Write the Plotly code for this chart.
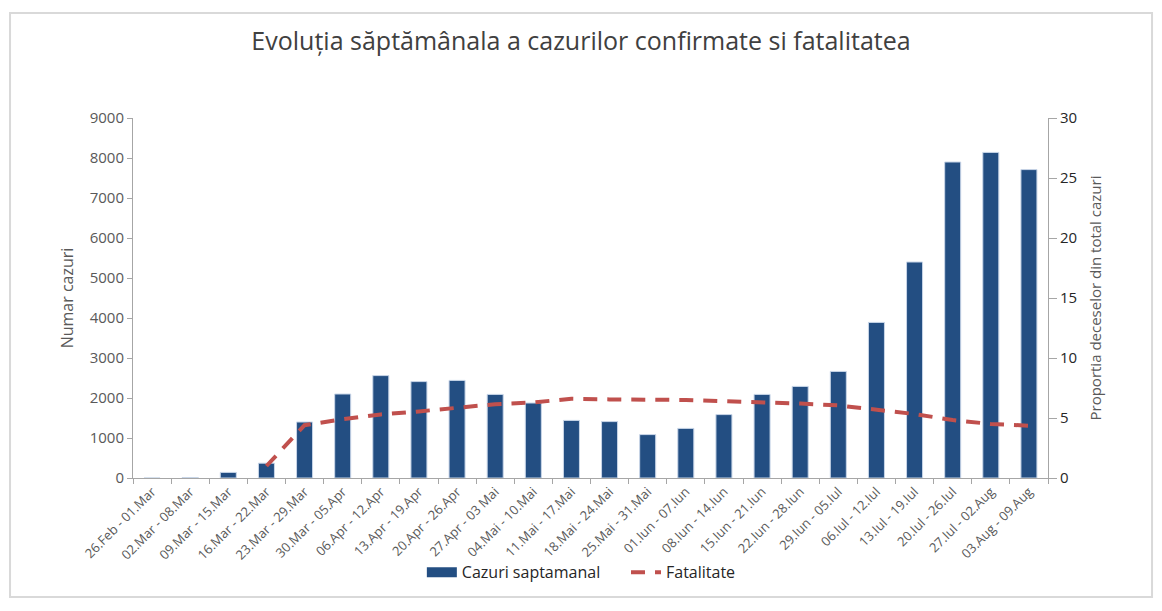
import plotly.graph_objects as go

weeks = ["26.Feb - 01.Mar", "02.Mar - 08.Mar", "09.Mar - 15.Mar", "16.Mar - 22.Mar",
         "23.Mar - 29.Mar", "30.Mar - 05.Apr", "06.Apr - 12.Apr", "13.Apr - 19.Apr",
         "20.Apr - 26.Apr", "27.Apr - 03 Mai", "04.Mai - 10.Mai", "11.Mai - 17.Mai",
         "18.Mai - 24.Mai", "25.Mai - 31.Mai", "01.Iun - 07.Iun", "08.Iun - 14.Iun",
         "15.Iun - 21.Iun", "22.Iun - 28.Iun", "29.Iun - 05.Iul", "06.Iul - 12.Iul",
         "13.Iul - 19.Iul", "20.Iul - 26.Iul", "27.Iul - 02.Aug", "03.Aug - 09.Aug"]

cazuri = [0, 12, 140, 370, 1400, 2100, 2560, 2410, 2440, 2090, 1875, 1440,
          1410, 1085, 1240, 1585, 2090, 2290, 2665, 3890, 5400, 7900, 8140, 7710]

fatalitate = [None, None, None, 1.0, 4.4, 4.9, 5.3, 5.55, 5.85, 6.15, 6.3, 6.6,
              6.55, 6.55, 6.5, 6.4, 6.33, 6.2, 6.05, 5.72, 5.33, 4.83, 4.5, 4.36]

left_ticks = [0, 1000, 2000, 3000, 4000, 5000, 6000, 7000, 8000, 9000]
right_ticks = [0, 5, 10, 15, 20, 25, 30]

FONT = "Open Sans"
BAR_COLOR = "#234E82"
fig = go.Figure()
fig.add_trace(go.Bar(
    x=weeks, y=cazuri, name="Cazuri saptamanal", showlegend=False,
    marker=dict(color=BAR_COLOR, line=dict(color="#C9D6E8", width=1)),
))
# legend entry with a wide bar-like symbol
fig.add_trace(go.Scatter(
    x=[weeks[0]], y=[None], name="Cazuri saptamanal\u00a0\u00a0\u00a0\u00a0\u00a0", mode="lines",
    line=dict(color=BAR_COLOR, width=10), hoverinfo="skip",
))
fig.add_trace(go.Scatter(
    x=weeks, y=fatalitate, name="Fatalitate", yaxis="y2", mode="lines",
    line=dict(color="#C0504D", width=4, dash="14px,10px"),
    connectgaps=False,
))

fig.update_layout(
    width=1162, height=611,
    margin=dict(l=133, r=114, t=118, b=133),
    paper_bgcolor="white", plot_bgcolor="white",
    bargap=0.58,
    title=dict(text="Evoluția săptămânala a cazurilor confirmate si fatalitatea",
               x=0.5, xanchor="center", y=0.932, yanchor="middle",
               font=dict(family=FONT, size=25, color="#404040")),
    font=dict(family=FONT, color="#595959"),
    showlegend=True,
    legend=dict(orientation="h", x=0.49, xanchor="center", y=-0.262, yanchor="middle",
                font=dict(family=FONT, size=16, color="#262626"),
                bgcolor="rgba(0,0,0,0)"),
    xaxis=dict(
        type="category", tickangle=-45, tickfont=dict(size=13, color="#595959"),
        showline=True, linecolor="#A6A6A6", linewidth=1,
        ticks="outside", tickson="boundaries", ticklen=5, tickcolor="#A6A6A6",
        showgrid=False, zeroline=False,
    ),
    yaxis=dict(
        range=[0, 9000], tickvals=left_ticks, tickfont=dict(size=15, color="#595959"),
        showline=True, linecolor="#A6A6A6", linewidth=1,
        ticks="outside", ticklen=5, tickcolor="#A6A6A6",
        showgrid=False, zeroline=False,
        title=dict(text="Numar cazuri", font=dict(size=16, color="#595959"), standoff=12),
    ),
    yaxis2=dict(
        range=[0, 30], tickvals=right_ticks, overlaying="y", side="right",
        tickfont=dict(size=15, color="#262626"),
        showline=True, linecolor="#A6A6A6", linewidth=1,
        ticks="outside", ticklen=8, tickcolor="#A6A6A6",
        showgrid=False, zeroline=False,
        title=dict(text="Proportia deceselor din total cazuri",
                   font=dict(size=15, color="#595959"), standoff=14),
    ),
    shapes=[dict(type="rect", xref="paper", yref="paper",
                 x0=-0.1344, x1=1.1137, y0=-0.3306, y1=1.2917,
                 line=dict(color="#D9D9D9", width=2), fillcolor="rgba(0,0,0,0)",
                 layer="below")],
)

fig.write_html("out.html")
